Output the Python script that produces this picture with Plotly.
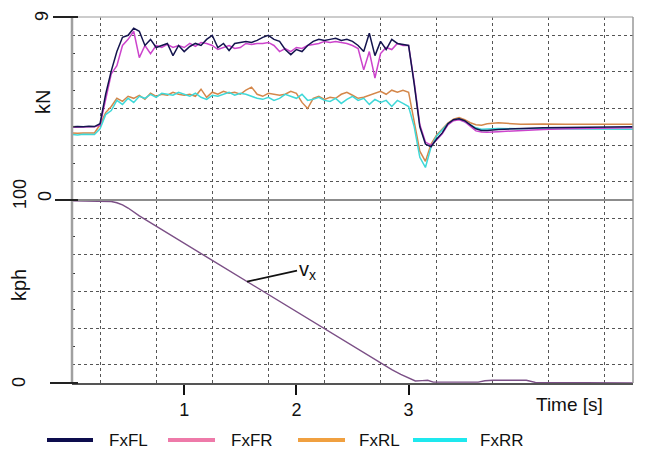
import plotly.graph_objects as go

# ---------------- data ----------------
t_force = [0.00, 0.05, 0.10, 0.15, 0.20, 0.25, 0.30, 0.35, 0.40, 0.45,
           0.50, 0.55, 0.60, 0.65, 0.70, 0.75, 0.80, 0.85, 0.90, 0.95,
           1.00, 1.05, 1.10, 1.15, 1.20, 1.25, 1.30, 1.35, 1.40, 1.45,
           1.50, 1.55, 1.60, 1.65, 1.70, 1.75, 1.80, 1.85, 1.90, 1.95,
           2.00, 2.05, 2.10, 2.15, 2.20, 2.25, 2.30, 2.35, 2.40, 2.45,
           2.50, 2.55, 2.60, 2.65, 2.70, 2.75, 2.80, 2.85, 2.90, 2.95,
           3.00, 3.05, 3.10, 3.15, 3.20, 3.25, 3.30, 3.35, 3.40, 3.45,
           3.50, 3.55, 3.60, 3.65, 3.70, 3.80, 4.00, 4.20, 4.40, 4.60,
           4.80, 5.00]

fxfl = [3.60, 3.62, 3.60, 3.63, 3.61, 3.75, 5.20, 6.35, 7.30, 8.00,
        8.10, 8.45, 8.30, 7.60, 7.90, 7.50, 7.60, 7.70, 7.10, 7.60,
        7.30, 7.55, 7.70, 7.60, 7.90, 8.10, 7.50, 7.70, 7.35, 7.70,
        7.75, 7.80, 7.75, 7.85, 8.00, 8.10, 7.90, 7.80, 7.40, 7.15,
        7.40, 7.30, 7.60, 7.80, 7.90, 7.85, 7.90, 7.95, 7.85, 7.90,
        7.80, 7.60, 7.30, 8.20, 7.10, 7.80, 7.40, 7.90, 7.70, 7.65,
        7.60, 5.70, 3.60, 2.75, 2.62, 3.00, 3.30, 3.75, 3.95, 4.00,
        3.90, 3.70, 3.50, 3.42, 3.42, 3.47, 3.52, 3.55, 3.57, 3.58,
        3.59, 3.60]

fxfr = [3.58, 3.60, 3.59, 3.60, 3.60, 3.68, 4.90, 6.20, 6.60, 7.60,
        7.90, 8.30, 7.00, 7.60, 7.20, 7.60, 7.50, 7.65, 7.50, 7.60,
        7.50, 7.70, 7.55, 7.75, 7.70, 7.60, 7.40, 7.50, 7.60, 7.45,
        7.50, 7.70, 7.65, 7.70, 7.70, 7.75, 7.60, 7.30, 7.45, 7.30,
        7.50, 7.45, 7.60, 7.65, 7.70, 7.80, 7.75, 7.80, 7.75, 7.70,
        7.60, 7.45, 6.40, 7.30, 6.00, 7.20, 7.50, 7.40, 7.70, 7.60,
        7.60, 5.80, 3.70, 2.85, 2.70, 2.95, 3.25, 3.70, 3.90, 3.95,
        3.85, 3.60, 3.40, 3.35, 3.33, 3.36, 3.42, 3.47, 3.50, 3.52,
        3.54, 3.55]

fxrl = [3.30, 3.28, 3.30, 3.29, 3.30, 3.70, 4.30, 4.60, 5.00, 4.85,
        5.10, 5.00, 5.15, 4.95, 5.25, 5.10, 5.20, 5.15, 5.30, 5.20,
        5.15, 5.20, 5.10, 5.45, 5.05, 5.30, 5.20, 5.35, 5.25, 5.30,
        5.20, 5.40, 5.55, 5.20, 5.10, 5.25, 5.20, 5.15, 5.20, 5.35,
        5.25, 4.80, 4.50, 5.00, 5.10, 4.95, 5.05, 5.00, 5.20, 5.30,
        5.15, 5.00, 5.05, 5.15, 5.25, 5.35, 5.20, 5.40, 5.30, 5.40,
        5.30, 3.90, 2.40, 1.90, 2.75, 3.20, 3.50, 3.78, 3.98, 4.05,
        3.95, 3.80, 3.70, 3.68, 3.75, 3.80, 3.72, 3.74, 3.72, 3.72,
        3.73, 3.72]

fxrr = [3.22, 3.20, 3.23, 3.21, 3.22, 3.50, 4.20, 4.40, 4.90, 4.70,
        5.00, 4.80, 5.10, 5.00, 5.20, 5.05, 5.25, 5.20, 5.15, 5.30,
        5.20, 5.10, 5.25, 5.05, 4.95, 5.15, 5.10, 5.20, 5.30, 5.15,
        5.25, 5.20, 5.10, 5.00, 4.95, 5.05, 4.90, 5.00, 5.20, 5.10,
        5.00, 5.20, 4.90, 4.95, 5.05, 4.90, 4.85, 5.00, 4.75, 4.95,
        5.10, 4.90, 5.00, 4.70, 4.95, 4.80, 4.90, 4.60, 4.90, 4.75,
        4.60, 3.60, 2.10, 1.60, 2.60, 3.15, 3.45, 3.75, 3.92, 3.98,
        3.85, 3.70, 3.55, 3.48, 3.50, 3.52, 3.50, 3.50, 3.50, 3.48,
        3.48, 3.48]

t_speed = [0.00, 0.29, 0.35, 0.40, 0.45, 0.50, 0.55, 0.60, 1.21, 1.56,
           2.04, 2.75, 2.85, 2.93, 3.00, 3.06, 3.12, 3.17, 3.22, 3.62,
           3.68, 3.75, 4.05, 4.10, 4.13, 5.00]
vx_kph = [99.5, 99.5, 99.2, 98.5, 97.3, 95.6, 93.4, 91.3, 68.5, 55.4,
          37.5, 10.9, 7.3, 4.7, 2.8, 1.1, 1.3, 1.5, 0.5, 0.5,
          1.2, 1.5, 1.5, 1.0, 0.3, 0.0]

series_names = ["FxFL", "FxFR", "FxRL", "FxRR"]
x_tick_vals = [1, 2, 3]
x_tick_text = ["1", "2", "3"]
x_grid_vals = [0.25, 0.75, 1.25, 1.75, 2.25, 2.75, 3.25, 3.75, 4.25, 4.75]
kn_grid_vals = [0.9, 2.7, 4.5, 6.3, 8.1]
kn_minor_vals = [1.8, 3.6, 5.4, 7.2]
kph_grid_vals = [10, 30, 50, 70, 90]
kph_minor_vals = [20, 40, 60, 80]

# ---------------- styling ----------------
W, H = 650, 457
FONT = "Liberation Sans, Arial, sans-serif"
line_cols = {"FxFL": "#14144e", "FxFR": "#cc44cc", "FxRL": "#d4874a", "FxRR": "#3fd8d8"}
legend_cols = {"FxFL": "#0d0d4d", "FxFR": "#ee7aa9", "FxRL": "#f0a040", "FxRR": "#1ee8ee"}
speed_col = "#7b4f86"
GRID = "#555555"


def px(x):
    return x / W


def py(y):
    return 1 - y / H


L, R, T, M, B = 72, 633, 17, 200, 383

fig = go.Figure()
for name, vals in [("FxRL", fxrl), ("FxRR", fxrr), ("FxFR", fxfr), ("FxFL", fxfl)]:
    fig.add_trace(go.Scatter(x=t_force, y=vals, mode="lines", name=name,
                             line=dict(color=line_cols[name], width=1.5),
                             xaxis="x", yaxis="y", showlegend=False))

fig.add_trace(go.Scatter(x=t_speed, y=vx_kph, mode="lines", name="vx",
                         line=dict(color=speed_col, width=1.4),
                         xaxis="x", yaxis="y2", showlegend=False))

fig.update_layout(
    width=W, height=H, autosize=False,
    margin=dict(l=0, r=0, t=0, b=0),
    paper_bgcolor="white", plot_bgcolor="white",
    font=dict(family=FONT, color="#111111"),
    xaxis=dict(domain=[px(L), px(R)], range=[0, 5], anchor="y2",
               tickmode="array", tickvals=x_tick_vals, ticktext=x_tick_text,
               ticks="outside", ticklen=10, tickwidth=2, tickcolor="#111111",
               tickfont=dict(size=18, family=FONT, color="#111111"),
               showgrid=False, zeroline=False, showline=True, linecolor="#555555", linewidth=1.5,
               minor=dict(tickmode="array", tickvals=x_grid_vals, showgrid=True,
                          gridcolor=GRID, griddash="dot", gridwidth=1, ticks="")),
    yaxis=dict(domain=[py(M), py(T)], range=[0, 9], anchor="x",
               tickmode="array", tickvals=kn_grid_vals, showticklabels=False, ticks="",
               showgrid=True, gridcolor=GRID, griddash="dot", gridwidth=1,
               zeroline=False, showline=False,
               minor=dict(tickmode="array", tickvals=kn_minor_vals, ticks="inside",
                          ticklen=3, tickcolor="#333333", showgrid=False)),
    yaxis2=dict(domain=[py(B), py(M)], range=[0, 100], anchor="x",
                tickmode="array", tickvals=kph_grid_vals, showticklabels=False, ticks="",
                showgrid=True, gridcolor=GRID, griddash="dot", gridwidth=1,
                zeroline=False, showline=False,
                minor=dict(tickmode="array", tickvals=kph_minor_vals, ticks="inside",
                           ticklen=3, tickcolor="#333333", showgrid=False)),
)

shapes = []


def seg(x0, y0, x1, y1, color, width):
    shapes.append(dict(type="line", xref="paper", yref="paper",
                       x0=px(x0), y0=py(y0), x1=px(x1), y1=py(y1),
                       line=dict(color=color, width=width), layer="above"))


seg(L, T, R, T, "#bbbbbb", 1.5)      # top border
seg(R, T, R, B, "#999999", 1.5)      # right border
seg(L, M, R, M, "#8c8c8c", 2)        # panel separator
seg(L, T, L, B, "#a0a0a0", 2.5)      # left axis
seg(53, T, 78, T, "#222222", 2)      # 9 kN tick
seg(55, M, 78, M, "#222222", 2)      # 0 kN / 100 kph tick
seg(50, B, 78, B, "#222222", 2)      # 0 kph tick

# legend (manual)
leg_lines = [(47, 93), (168, 215), (298, 345), (413, 467)]
leg_text_x = [107, 229, 357, 478]
LEG_Y = 440
for name, (a, b) in zip(series_names, leg_lines):
    seg(a, LEG_Y, b, LEG_Y, legend_cols[name], 4)
fig.update_layout(shapes=shapes)

ann = []


def rot_label(text, x, y, size):
    ann.append(dict(text=text, xref="paper", yref="paper", x=px(x), y=py(y),
                    textangle=-90, showarrow=False, xanchor="center", yanchor="middle",
                    font=dict(size=size, family=FONT, color="#111111")))


rot_label("9", 42, 16, 18)
rot_label("kN", 43, 102, 20)
rot_label("0", 45, 196, 18)
rot_label("100", 20, 194, 18)
rot_label("kph", 19, 285, 20)
rot_label("0", 19, 382, 18)

ann.append(dict(text="Time [s]", xref="paper", yref="paper", x=px(605), y=py(404),
                xanchor="right", yanchor="middle", showarrow=False,
                font=dict(size=19, family=FONT, color="#111111")))

for name, xt in zip(series_names, leg_text_x):
    ann.append(dict(text=name, xref="paper", yref="paper", x=px(xt), y=py(LEG_Y),
                    xanchor="left", yanchor="middle", showarrow=False,
                    font=dict(size=17, family=FONT, color="#111111")))

ann.append(dict(text="v<sub>x</sub>", xref="x", yref="y2", x=1.56, y=55.4,
                showarrow=True, arrowhead=0, arrowwidth=1.6, arrowcolor="#111111",
                ax=50, ay=-11, xanchor="left", yanchor="middle",
                font=dict(size=20, family=FONT, color="#111111")))

fig.update_layout(annotations=ann)
fig.write_html("out.html", config={"displayModeBar": False},
               post_script="document.body.style.margin='0px';document.body.style.padding='0px';")
